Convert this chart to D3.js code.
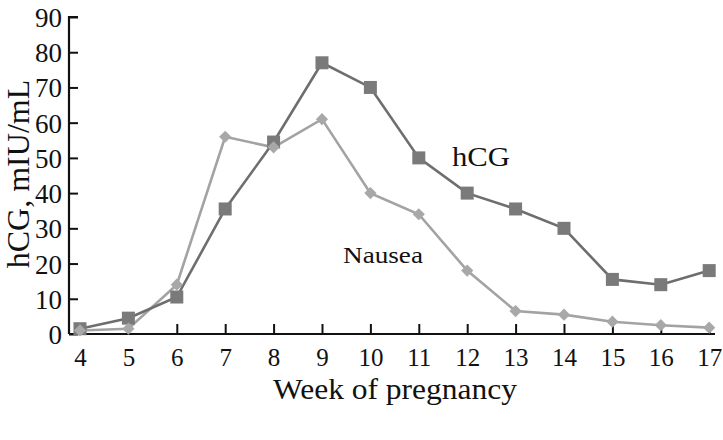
<!DOCTYPE html>
<html><head><meta charset="utf-8">
<script src="https://cdn.jsdelivr.net/npm/d3@7"></script>
<style>body{margin:0;background:#fff}svg text{font-family:"Liberation Serif","DejaVu Serif",serif;fill:#111}</style>
</head><body>
<svg id="c" width="723" height="440"></svg>
<script>
const weeks = [4,5,6,7,8,9,10,11,12,13,14,15,16,17];
const hcg = [1.5,4.5,10.5,35.5,54.5,77,70,50,40,35.5,30,15.5,14,18];
const nausea = [1,1.5,14,56,53,61,40,34,18,6.5,5.5,3.5,2.5,1.8];
const yTicks = [0,10,20,30,40,50,60,70,80,90];
const seriesLabels = ["hCG","Nausea"];

const svg = d3.select("#c");
const x = d3.scaleLinear().domain([3.773, 17.12]).range([69, 715]);
const y = d3.scaleLinear().domain([0, 90]).range([334, 17]);

const xAxis = svg.append("g").attr("transform","translate(0,334)")
  .call(d3.axisBottom(x).tickValues(weeks).tickSize(-10).tickPadding(14).tickFormat(d3.format("d")));
xAxis.selectAll("text").attr("font-size",25).attr("dy","0.71em");
const yAxis = svg.append("g").attr("transform","translate(69,0)")
  .call(d3.axisLeft(y).tickValues(yTicks).tickSize(-9).tickPadding(7));
yAxis.selectAll("text").attr("font-size",27).attr("dy","0.35em");
[xAxis,yAxis].forEach(a=>{a.selectAll("path,line").attr("stroke","#111").attr("stroke-width",2);a.select(".domain").attr("stroke-width",2.2);});
xAxis.select(".domain").attr("d","M69,0H715");
yAxis.select(".domain").attr("d","M9,17H0V334");

const line = d3.line().x((d,i)=>x(weeks[i])).y(d=>y(d));
svg.append("path").datum(nausea).attr("d",line).attr("fill","none").attr("stroke","#a3a3a3").attr("stroke-width",2.6);
svg.append("path").datum(hcg).attr("d",line).attr("fill","none").attr("stroke","#6e6e6e").attr("stroke-width",2.6);
svg.selectAll(".sq").data(hcg).join("rect").attr("class","sq")
  .attr("x",(d,i)=>x(weeks[i])-6.5).attr("y",d=>y(d)-6.5).attr("width",13).attr("height",13).attr("fill","#7a7a7a");
svg.selectAll(".dm").data(nausea).join("path").attr("class","dm")
  .attr("transform",(d,i)=>`translate(${x(weeks[i])},${y(d)})`)
  .attr("d",d3.symbol(d3.symbolDiamond2,95)).attr("fill","#a8a8a8");

svg.append("text").attr("x",452).attr("y",166).attr("font-size",28)
  .attr("textLength",58).attr("lengthAdjust","spacingAndGlyphs").text(seriesLabels[0]);
svg.append("text").attr("x",343).attr("y",263).attr("font-size",23)
  .attr("textLength",80).attr("lengthAdjust","spacingAndGlyphs").text(seriesLabels[1]);
svg.append("text").attr("x",273).attr("y",399).attr("font-size",29)
  .attr("textLength",244).attr("lengthAdjust","spacingAndGlyphs").text("Week of pregnancy");
svg.append("text").attr("transform","translate(29,174) rotate(-90)").attr("text-anchor","middle").attr("font-size",32).text("hCG, mIU/mL");
</script>
</body></html>
